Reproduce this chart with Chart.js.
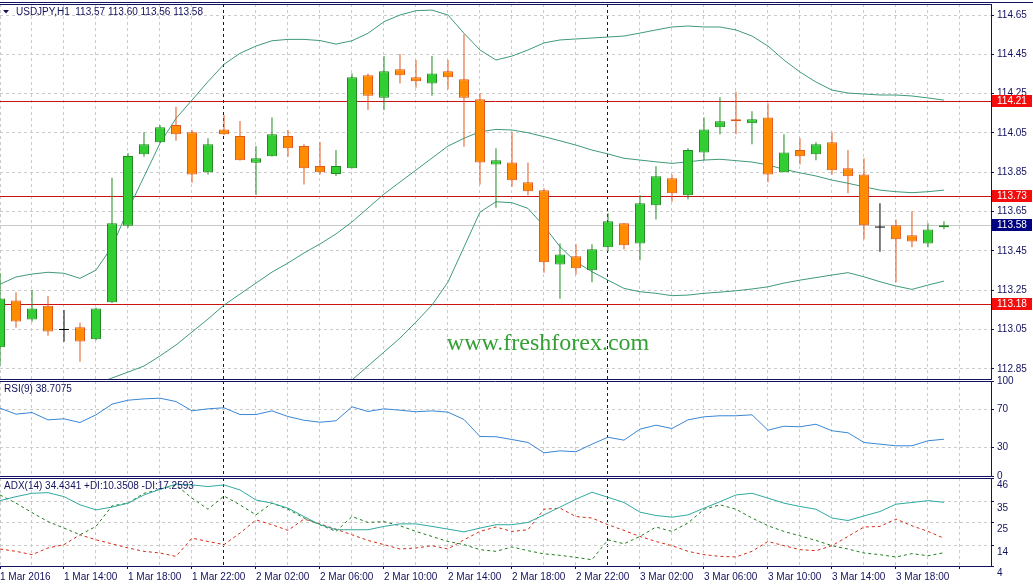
<!DOCTYPE html>
<html>
<head>
<meta charset="utf-8">
<script src="https://cdn.jsdelivr.net/npm/chart.js@4.4.0/dist/chart.umd.min.js"></script>
<style>
  body { margin: 0; background: #fff; width: 1033px; height: 585px; overflow: hidden; position: relative; }
  canvas { position: absolute; left: 0; }
</style>
</head>
<body>
<canvas id="priceChart" width="1033" height="382" style="top:0"></canvas>
<canvas id="rsiChart" width="1033" height="110" style="top:372px"></canvas>
<canvas id="adxChart" width="1033" height="111" style="top:474px"></canvas>
<script>
// USDJPY H1, one bar per hour from 1 Mar 10:00
const candleOpen = [112.959, 113.198, 113.101, 113.171, 113.050, 113.061, 113.000, 113.188, 113.578, 113.941,
  114.002, 114.090, 114.053, 113.850, 114.068, 114.034, 113.898, 113.931, 114.034, 113.983,
  113.882, 113.841, 113.870, 114.343, 114.229, 114.374, 114.333, 114.302, 114.364, 114.323,
  114.221, 113.890, 113.900, 113.799, 113.758, 113.381, 113.422, 113.351, 113.468, 113.590,
  113.488, 113.682, 113.819, 113.733, 113.951, 114.079, 114.119, 114.099, 114.129, 113.850,
  113.963, 113.941, 114.002, 113.870, 113.839, 113.571, 113.580, 113.529, 113.488, 113.57];
const candleHigh = [113.337, 113.239, 113.251, 113.220, 113.149, 113.084, 113.160, 113.822, 113.946, 114.053,
  114.090, 114.183, 114.065, 114.023, 114.141, 114.111, 113.983, 114.129, 114.065, 113.993,
  114.004, 113.963, 114.353, 114.353, 114.441, 114.452, 114.421, 114.441, 114.421, 114.552,
  114.252, 113.972, 114.053, 113.900, 113.768, 113.488, 113.483, 113.483, 113.641, 113.590,
  113.733, 113.880, 113.839, 113.972, 114.129, 114.231, 114.260, 114.160, 114.201, 114.043,
  114.023, 114.002, 114.053, 113.963, 113.921, 113.692, 113.610, 113.651, 113.590, 113.60];
const candleLow = [112.869, 113.059, 113.089, 113.018, 112.987, 112.886, 112.995, 113.185, 113.568, 113.929,
  114.000, 114.010, 113.797, 113.839, 114.040, 113.910, 113.734, 113.930, 113.929, 113.788,
  113.839, 113.831, 113.870, 114.167, 114.167, 114.302, 114.280, 114.239, 114.272, 113.980,
  113.788, 113.669, 113.776, 113.733, 113.339, 113.206, 113.330, 113.290, 113.447, 113.458,
  113.402, 113.610, 113.700, 113.712, 113.911, 114.043, 114.043, 113.992, 113.799, 113.850,
  113.890, 113.911, 113.839, 113.743, 113.509, 113.446, 113.290, 113.468, 113.468, 113.56];
const candleClose = [113.208, 113.091, 113.157, 113.040, 113.050, 112.989, 113.157, 113.590, 113.932, 113.992,
  114.079, 114.043, 113.839, 113.992, 114.043, 113.911, 113.921, 114.043, 113.972, 113.870,
  113.850, 113.882, 114.333, 114.239, 114.364, 114.343, 114.313, 114.353, 114.333, 114.229,
  113.900, 113.911, 113.809, 113.753, 113.392, 113.432, 113.361, 113.458, 113.600, 113.478,
  113.692, 113.829, 113.743, 113.963, 114.068, 114.109, 114.109, 114.119, 113.839, 113.951,
  113.931, 113.992, 113.860, 113.829, 113.580, 113.571, 113.509, 113.498, 113.559, 113.58];

// Bollinger bands (null where the line is below the visible range)
const bbUpper = [113.280, 113.317, 113.332, 113.341, 113.336, 113.310, 113.352, 113.471, 113.658, 113.827,
  113.997, 114.124, 114.217, 114.311, 114.399, 114.455, 114.492, 114.519, 114.526, 114.526,
  114.520, 114.502, 114.519, 114.557, 114.616, 114.650, 114.672, 114.675, 114.650, 114.557,
  114.472, 114.421, 114.441, 114.472, 114.508, 114.523, 114.528, 114.533, 114.538, 114.543,
  114.558, 114.574, 114.589, 114.594, 114.589, 114.589, 114.574, 114.543, 114.492, 114.421,
  114.360, 114.309, 114.268, 114.253, 114.248, 114.243, 114.243, 114.238, 114.228, 114.217];
const bbMiddle = [null, null, null, null, null, null, 112.772, 112.803, 112.833, 112.864,
  112.915, 112.971, 113.037, 113.103, 113.174, 113.230, 113.286, 113.342, 113.388, 113.439,
  113.485, 113.536, 113.597, 113.668, 113.739, 113.800, 113.861, 113.922, 113.983, 114.023,
  114.056, 114.068, 114.065, 114.051, 114.031, 114.010, 113.988, 113.963, 113.943, 113.921,
  113.912, 113.903, 113.895, 113.903, 113.912, 113.916, 113.909, 113.902, 113.887, 113.865,
  113.847, 113.831, 113.810, 113.794, 113.776, 113.759, 113.751, 113.746, 113.751, 113.759];
const bbLower = [null, null, null, null, null, null, null, null, null, null,
  null, null, null, null, null, null, null, null, null, null,
  null, 112.742, 112.793, 112.864, 112.935, 113.006, 113.088, 113.174, 113.291, 113.469,
  113.647, 113.700, 113.695, 113.666, 113.576, 113.471, 113.394, 113.344, 113.301, 113.259,
  113.242, 113.234, 113.222, 113.225, 113.234, 113.240, 113.247, 113.256, 113.267, 113.286,
  113.301, 113.314, 113.327, 113.339, 113.318, 113.293, 113.271, 113.254, 113.276, 113.296];

const rsiValues = [71.4, 65.1, 66.8, 59.1, 60.2, 56.3, 64.4, 75.6, 79.8, 81.2,
  81.9, 78.4, 68.6, 70.7, 71.8, 64.7, 64.7, 68.6, 62.6, 58.7,
  56.6, 58.1, 72.8, 67.9, 70.7, 69.3, 67.6, 68.6, 67.2, 59.5,
  41.6, 41.3, 38.4, 35.3, 24.4, 26.5, 25.5, 33.5, 40.8, 37.7,
  49.3, 53.5, 50.0, 59.1, 62.3, 63.4, 63.4, 64.4, 48.2, 52.4,
  51.8, 54.5, 47.6, 45.5, 35.3, 33.5, 31.8, 31.8, 37.1, 38.7];

const adxValues = [35.2, 37.1, 38.7, 39.0, 37.1, 33.2, 30.8, 32.1, 34.0, 37.9,
  40.6, 43.1, 42.7, 41.9, 42.7, 40.3, 35.5, 34.0, 31.6, 27.6,
  23.7, 21.3, 21.3, 21.3, 22.9, 24.1, 24.1, 22.9, 21.6, 20.3,
  22.1, 23.7, 23.7, 24.8, 28.4, 32.1, 35.9, 39.2, 36.8, 34.3,
  29.7, 28.1, 27.3, 28.4, 31.6, 34.7, 37.9, 38.7, 36.4, 34.0,
  32.4, 31.1, 26.9, 25.7, 27.9, 30.0, 33.5, 34.3, 35.2, 34.4];
const plusDI = [37.9, 34.0, 29.5, 25.2, 22.1, 18.9, 22.9, 32.7, 34.0, 38.7,
  40.6, 42.7, 36.4, 31.1, 37.4, 33.2, 28.4, 34.0, 31.1, 26.9,
  23.7, 20.5, 27.6, 24.8, 25.2, 23.2, 20.5, 18.1, 15.7, 14.2,
  11.8, 11.0, 13.1, 11.3, 9.8, 9.1, 8.1, 7.0, 16.5, 14.6,
  18.1, 22.6, 20.5, 24.5, 31.1, 33.2, 31.1, 26.9, 23.2, 20.5,
  18.4, 16.2, 13.7, 12.1, 10.2, 9.4, 8.3, 9.9, 8.9, 10.35];
const minusDI = [12.1, 11.0, 9.4, 12.6, 14.2, 18.9, 16.5, 14.6, 12.6, 11.0,
  10.2, 8.6, 17.3, 15.7, 14.2, 19.7, 26.0, 23.7, 21.0, 26.4,
  24.1, 21.6, 18.9, 16.2, 14.2, 12.1, 12.6, 13.7, 12.1, 16.5,
  20.5, 22.6, 20.5, 21.3, 31.1, 31.6, 27.6, 26.9, 23.7, 21.0,
  18.1, 15.7, 13.7, 11.0, 9.4, 8.6, 8.3, 11.0, 15.7, 13.7,
  11.8, 11.3, 13.7, 18.1, 22.6, 22.9, 26.4, 23.2, 20.5, 17.26];

// one label every 4 bars
const timeLabels = ['1 Mar 2016', '1 Mar 14:00', '1 Mar 18:00', '1 Mar 22:00', '2 Mar 02:00', '2 Mar 06:00',
  '2 Mar 10:00', '2 Mar 14:00', '2 Mar 18:00', '2 Mar 22:00', '3 Mar 02:00', '3 Mar 06:00',
  '3 Mar 10:00', '3 Mar 14:00', '3 Mar 18:00'];
const daySeparators = [14, 38];
const priceTicks = [112.85, 113.05, 113.25, 113.45, 113.65, 113.85, 114.05, 114.25, 114.45, 114.65];
const rsiTicks = [0, 30, 70, 100];
const adxTicks = [4, 14, 25, 35, 46];
const levelLines = [114.21, 113.73, 113.18];
const lastPrice = 113.58;

const navy = '#12125e';
const gridGrey = '#cbcbcb';
const upFill = '#32cd32', upEdge = '#1f8a1f';
const downFill = '#ff8c00', downEdge = '#e2571a';

Chart.defaults.font.family = '"Liberation Sans", Arial, sans-serif';
Chart.defaults.font.size = 10;
Chart.defaults.color = navy;
Chart.defaults.animation = false;

function candleDir(i) {
  if (candleClose[i] > candleOpen[i]) return 1;
  if (candleClose[i] < candleOpen[i]) return -1;
  return 0;
}

function xAxis(showLabels) {
  return {
    type: 'linear',
    min: 0,
    max: 61.94,
    offset: false,
    afterBuildTicks: (s) => {
      s.ticks = [];
      for (let v = 0; v <= 60; v += 2) s.ticks.push({ value: v });
    },
    // keep the plot flush with the left edge
    afterFit: (s) => { s.paddingLeft = 0; s.paddingRight = 0; },
    ticks: {
      display: showLabels,
      autoSkip: false,
      maxRotation: 0,
      align: 'start',
      padding: 2,
      callback: (v) => (v % 4 === 0 && timeLabels[v / 4]) || ''
    },
    grid: {
      offset: false,
      color: (ctx) => (ctx.tick && daySeparators.includes(ctx.tick.value) ? navy : gridGrey),
      drawTicks: showLabels,
      tickLength: 3,
      tickColor: (ctx) => (ctx.tick && ctx.tick.value % 4 === 0 ? navy : 'rgba(0,0,0,0)')
    },
    border: { display: true, color: navy, dash: [3, 3] }
  };
}

function yAxis(min, max, tickValues, fmt, labelOffset) {
  return {
    position: 'right',
    min: min,
    max: max,
    afterBuildTicks: (s) => { s.ticks = tickValues.map((v) => ({ value: v })); },
    afterFit: (s) => { s.width = 42; s.paddingTop = 0; s.paddingBottom = 0; },
    ticks: { autoSkip: false, padding: 3, labelOffset: labelOffset, callback: fmt },
    grid: { color: gridGrey, tickLength: 3, tickColor: navy },
    border: { color: navy, dash: [3, 3] }
  };
}

// frame line on top of each panel plus its caption
const framePlugin = {
  id: 'frame',
  afterDraw(chart, args, opts) {
    const { ctx, chartArea: a } = chart;
    ctx.save();
    ctx.strokeStyle = navy;
    ctx.lineWidth = 1;
    ctx.beginPath();
    ctx.moveTo(0, a.top + 0.5);
    ctx.lineTo(a.right, a.top + 0.5);
    if (opts.outer) {
      ctx.moveTo(0, a.top - 1.5);
      ctx.lineTo(chart.width, a.top - 1.5);
    }
    ctx.stroke();
    ctx.fillStyle = navy;
    ctx.font = '10px "Liberation Sans", Arial, sans-serif';
    ctx.textBaseline = 'middle';
    let tx = a.left + 4;
    if (opts.arrow) {
      ctx.beginPath();
      ctx.moveTo(a.left + 3, a.top + 6);
      ctx.lineTo(a.left + 9, a.top + 6);
      ctx.lineTo(a.left + 6, a.top + 9.5);
      ctx.closePath();
      ctx.fill();
      tx = a.left + 16;
    }
    ctx.fillText(opts.caption, tx, a.top + 8.5);
    ctx.restore();
  }
};

// horizontal levels, watermark and price tags on the main panel
const levelPlugin = {
  id: 'levels',
  beforeDatasetsDraw(chart) {
    const { ctx, chartArea: a, scales: { y } } = chart;
    ctx.save();
    ctx.font = '24px "Liberation Serif", "Times New Roman", serif';
    ctx.fillStyle = '#35a035';
    ctx.textAlign = 'center';
    ctx.textBaseline = 'middle';
    ctx.fillText('www.freshforex.com', a.left + (a.right - a.left) * 0.553, a.top + (a.bottom - a.top) * 0.906);
    const hline = (v, c) => {
      const py = Math.round(y.getPixelForValue(v)) + 0.5;
      ctx.strokeStyle = c;
      ctx.lineWidth = 1;
      ctx.beginPath();
      ctx.moveTo(a.left, py);
      ctx.lineTo(a.right, py);
      ctx.stroke();
    };
    hline(lastPrice, '#c9c9c9');
    levelLines.forEach((v) => hline(v, '#c81414'));
    ctx.restore();
  },
  afterDraw(chart) {
    const { ctx, chartArea: a, scales: { y } } = chart;
    ctx.save();
    ctx.font = '10px "Liberation Sans", Arial, sans-serif';
    ctx.textBaseline = 'middle';
    const tag = (v, bg) => {
      const py = Math.round(y.getPixelForValue(v));
      ctx.fillStyle = bg;
      ctx.fillRect(a.right + 1, py - 6, 40, 12);
      ctx.fillStyle = '#ffffff';
      ctx.fillText(v.toFixed(2), a.right + 6, py + 0.5);
    };
    levelLines.forEach((v) => tag(v, '#f40d0d'));
    tag(lastPrice, '#000080');
    ctx.restore();
  }
};

const barIdx = candleOpen.map((_, i) => i);

new Chart(document.getElementById('priceChart'), {
  type: 'bar',
  data: {
    datasets: [
      {
        label: 'body',
        order: 0,
        data: barIdx.map((i) => ({ x: i, y: [candleOpen[i], candleClose[i]] })),
        backgroundColor: (ctx) => (candleDir(ctx.dataIndex) > 0 ? upFill : downFill),
        borderColor: (ctx) => (candleDir(ctx.dataIndex) > 0 ? upEdge : downEdge),
        borderWidth: 1,
        borderSkipped: false,
        inflateAmount: 0,
        barThickness: 10,
        grouped: false
      },
      {
        label: 'wick',
        order: 1,
        data: barIdx.map((i) => ({ x: i, y: [candleLow[i], candleHigh[i]] })),
        backgroundColor: (ctx) => {
          const d = candleDir(ctx.dataIndex);
          return d > 0 ? upEdge : d < 0 ? downEdge : '#000000';
        },
        borderWidth: 0,
        inflateAmount: 0,
        barThickness: 1,
        grouped: false
      },
      {
        type: 'line',
        label: 'doji',
        order: 2,
        data: barIdx.map((i) => ({ x: i, y: candleDir(i) === 0 ? candleClose[i] : null })),
        showLine: false,
        pointStyle: 'line',
        pointRadius: 5,
        pointBorderColor: '#000000',
        pointBorderWidth: 1
      },
      ...[bbUpper, bbMiddle, bbLower].map((band, n) => ({
        type: 'line',
        label: 'bb' + n,
        order: 3,
        data: band.map((v, i) => ({ x: i, y: v })),
        borderColor: '#3f9a78',
        borderWidth: 1,
        pointRadius: 0,
        tension: 0
      }))
    ]
  },
  options: {
    responsive: false,
    layout: { autoPadding: false, padding: { top: 4, bottom: 3, left: 0, right: 0 } },
    plugins: {
      legend: { display: false },
      tooltip: { enabled: false },
      frame: { caption: 'USDJPY,H1  113.57 113.60 113.56 113.58', arrow: true, outer: true }
    },
    scales: {
      x: xAxis(false),
      y: yAxis(112.798, 114.706, priceTicks, (v) => v.toFixed(2), 0)
    }
  },
  plugins: [levelPlugin, framePlugin]
});

new Chart(document.getElementById('rsiChart'), {
  type: 'line',
  data: {
    datasets: [{
      label: 'RSI(9)',
      data: rsiValues.map((v, i) => ({ x: i, y: v })),
      borderColor: '#3a86d4',
      borderWidth: 1,
      pointRadius: 0,
      tension: 0
    }]
  },
  options: {
    responsive: false,
    layout: { autoPadding: false, padding: { top: 9, bottom: 6, left: 0, right: 0 } },
    plugins: {
      legend: { display: false },
      tooltip: { enabled: false },
      frame: { caption: 'RSI(9) 38.7075' }
    },
    scales: {
      x: xAxis(false),
      y: yAxis(0, 100, rsiTicks, (v) => String(v), 0)
    }
  },
  plugins: [framePlugin]
});

new Chart(document.getElementById('adxChart'), {
  type: 'line',
  data: {
    datasets: [
      {
        label: 'ADX(14)',
        data: adxValues.map((v, i) => ({ x: i, y: v })),
        borderColor: '#2fa9a1',
        borderWidth: 1,
        pointRadius: 0,
        tension: 0
      },
      {
        label: '+DI',
        data: plusDI.map((v, i) => ({ x: i, y: v })),
        borderColor: '#1f7d1f',
        borderWidth: 1,
        borderDash: [3, 3],
        pointRadius: 0,
        tension: 0
      },
      {
        label: '-DI',
        data: minusDI.map((v, i) => ({ x: i, y: v })),
        borderColor: '#d42a14',
        borderWidth: 1,
        borderDash: [3, 3],
        pointRadius: 0,
        tension: 0
      }
    ]
  },
  options: {
    responsive: false,
    layout: { autoPadding: false, padding: { top: 4, bottom: 0, left: 0, right: 0 } },
    plugins: {
      legend: { display: false },
      tooltip: { enabled: false },
      frame: { caption: 'ADX(14) 34.4341 +DI:10.3508 -DI:17.2593' }
    },
    scales: {
      x: xAxis(true),
      y: yAxis(4, 46, adxTicks, (v) => String(v), 7)
    }
  },
  plugins: [framePlugin]
});
</script>
</body>
</html>
